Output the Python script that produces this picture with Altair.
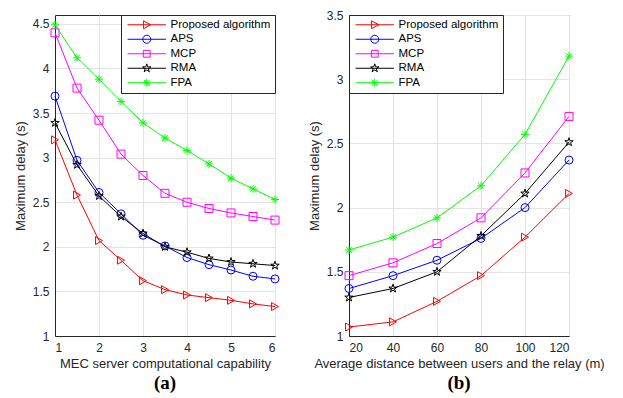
import altair as alt
import pandas as pd

series = ["Proposed algorithm", "APS", "MCP", "RMA", "FPA"]
colors = ["#ff0000", "#0000ff", "#ff00ff", "#000000", "#00ff00"]

# Panel (a)
x_a = [1, 1.5, 2, 2.5, 3, 3.5, 4, 4.5, 5, 5.5, 6]
prop_a = [3.20, 2.58, 2.07, 1.85, 1.62, 1.52, 1.46, 1.43, 1.40, 1.36, 1.33]
aps_a = [3.69, 2.97, 2.61, 2.37, 2.13, 2.01, 1.88, 1.80, 1.74, 1.67, 1.64]
mcp_a = [4.40, 3.78, 3.42, 3.04, 2.80, 2.60, 2.50, 2.43, 2.38, 2.34, 2.30]
rma_a = [3.39, 2.92, 2.57, 2.34, 2.15, 2.00, 1.94, 1.87, 1.83, 1.81, 1.79]
fpa_a = [4.49, 4.12, 3.88, 3.63, 3.39, 3.22, 3.08, 2.93, 2.77, 2.65, 2.53]

# Panel (b)
x_b = [20, 40, 60, 80, 100, 120]
prop_b = [1.07, 1.11, 1.27, 1.47, 1.77, 2.11]
aps_b = [1.37, 1.47, 1.59, 1.76, 2.00, 2.37]
mcp_b = [1.47, 1.57, 1.72, 1.92, 2.27, 2.71]
rma_b = [1.30, 1.37, 1.50, 1.78, 2.11, 2.51]
fpa_b = [1.67, 1.77, 1.92, 2.17, 2.57, 3.18]

xticks_a = [1, 2, 3, 4, 5, 6]
xticks_b = [20, 40, 60, 80, 100, 120]
yticks_a = [1, 1.5, 2, 2.5, 3, 3.5, 4, 4.5]
yticks_b = [1, 1.5, 2, 2.5, 3, 3.5]


def long_df(xs, ys_list):
    rows = []
    for name, ys in zip(series, ys_list):
        for x, y in zip(xs, ys):
            rows.append({"x": x, "y": y, "series": name, "k": series.index(name)})
    return pd.DataFrame(rows)


df_a = long_df(x_a, [prop_a, aps_a, mcp_a, rma_a, fpa_a])
df_b = long_df(x_b, [prop_b, aps_b, mcp_b, rma_b, fpa_b])

STAR = ("M0,-1.1L0.25,-0.34L1.05,-0.34L0.4,0.13L0.65,0.89L0,0.42"
        "L-0.65,0.89L-0.4,0.13L-1.05,-0.34L-0.25,-0.34Z")
ASTER = "M-1,0L1,0M0,-1L0,1M-0.7,-0.7L0.7,0.7M-0.7,0.7L0.7,-0.7"
shapes = ["triangle-right", "circle", "square", STAR, ASTER]

LINE = "M-4.8,0L4.8,0"
leg_paths = [
    LINE + "M-0.8,-1L1,0L-0.8,1Z",
    LINE + "M-1,0A1,1,0,1,0,1,0A1,1,0,1,0,-1,0",
    LINE + "M-0.85,-0.85L0.85,-0.85L0.85,0.85L-0.85,0.85Z",
    LINE + STAR,
    LINE + ASTER,
]
expr = ""
for name, p in zip(series[:-1], leg_paths[:-1]):
    expr += "datum.value==='%s' ? '%s' : " % (name, p)
expr += "'%s'" % leg_paths[-1]


def panel(df, xdom, xticks, ydom, yticks, xtitle, tag, legend_orient):
    legend = alt.Legend(
        title=None, orient=legend_orient, offset=0,
        fillColor="white", strokeColor="#262626", padding=4,
        labelFont="Liberation Sans", labelFontSize=11.5, labelColor="#000000",
        symbolSize=64, symbolOffset=16, labelOffset=18, rowPadding=1.5,
        symbolStrokeWidth=1, symbolFillColor="transparent",
        symbolType=alt.ExprRef(expr=expr),
    )
    color = alt.Color("series:N", scale=alt.Scale(domain=series, range=colors),
                      legend=legend)
    xenc = alt.X("x:Q", scale=alt.Scale(domain=xdom, nice=False, zero=False),
                 axis=alt.Axis(values=xticks, title=xtitle, format="~r"))
    yenc = alt.Y("y:Q", scale=alt.Scale(domain=ydom, nice=False, zero=False),
                 axis=alt.Axis(values=yticks, title="Maximum delay (s)", format="~r"))
    base = alt.Chart(df)
    layers = []
    for name, shp in zip(series, shapes):
        sub = base.transform_filter(alt.datum.series == name)
        layers.append(sub.mark_line(strokeWidth=1).encode(
            x=xenc, y=yenc, color=color))
        layers.append(sub.mark_point(filled=False, size=64, strokeWidth=1,
                                     opacity=1, shape=shp).encode(
            x=xenc, y=yenc, color=color))
    return alt.layer(*layers).properties(
        width=220, height=321,
        title=alt.TitleParams(tag, orient="bottom", font="Liberation Serif",
                              fontSize=19, fontWeight="bold", color="#000000",
                              offset=4),
    )


left = panel(df_a, [1, 6], xticks_a, [1, 4.6], yticks_a,
             "MEC server computational capability", "(a)", "top-right")
right = panel(df_b, [20, 120], xticks_b, [1, 3.5], yticks_b,
              "Average distance between users and the relay (m)", "(b)", "top-left")

chart = alt.hconcat(left, right, spacing=25).resolve_legend(
    color="independent"
).resolve_scale(color="independent").properties(
    padding={"left": 5, "top": 0, "right": 5, "bottom": 5}
).configure(
    font="Liberation Sans"
).configure_view(
    stroke="#262626", strokeWidth=1
).configure_axis(
    grid=True, gridColor="#e3e3e3", gridWidth=1,
    domain=True, domainColor="#262626", domainWidth=1,
    ticks=False, labelPadding=6,
    labelFont="Liberation Sans", labelFontSize=12, labelColor="#262626",
    titleFont="Liberation Sans", titleFontSize=13, titleFontWeight="normal",
    titleColor="#262626",
).configure_axisX(titlePadding=4).configure_axisY(titlePadding=5)

chart.save("out.html", embed_options={"renderer": "svg", "actions": False})
